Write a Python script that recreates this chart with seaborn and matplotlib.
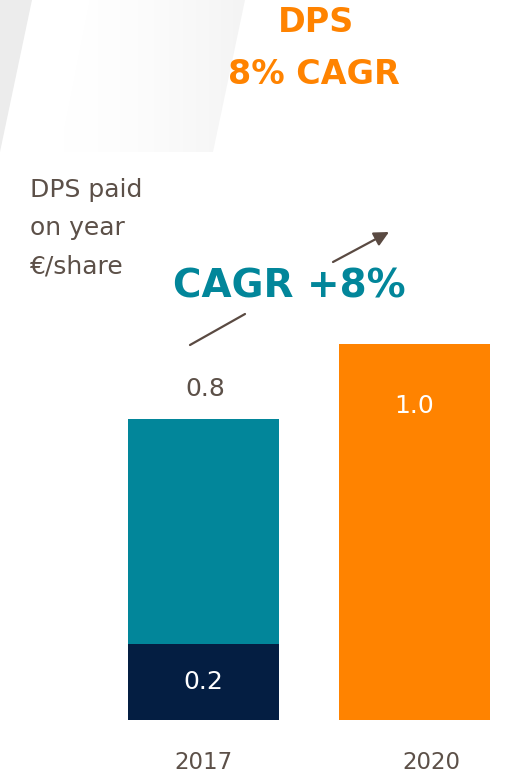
import matplotlib
matplotlib.use("Agg")
import matplotlib.pyplot as plt
from matplotlib.patches import Polygon
import numpy as np
import seaborn as sns
import pandas as pd

# Data: dividend per share (EUR)
years = ["2017", "2020"]
base_part = [0.2, 0.0]      # dark lower segment
top_part = [0.6, 1.0]       # upper segment / full bar
totals = [0.8, 1.0]
base_labels = ["0.2", ""]
total_labels = ["0.8", "1.0"]
unit_lines = ["DPS paid", "on year", "€/share"]

TEAL = "#02869a"
NAVY = "#041e42"
ORANGE = "#ff8300"
TEXT = "#5c5048"
ARROW = "#5a4a42"

sns.set_theme(style="white")
plt.rcParams["font.family"] = ["DejaVu Sans"]

W, H = 528, 775
fig = plt.figure(figsize=(W / 100, H / 100), dpi=100)
fig.patch.set_facecolor("white")


def fx(px):
    return px / W


def fy(py):
    return 1 - py / H


# light decorative shapes in the upper-left background
fig.patches.append(Polygon([(fx(0), fy(0)), (fx(32), fy(0)), (fx(0), fy(152))],
                           closed=True, transform=fig.transFigure,
                           facecolor="#ececec", edgecolor="none", zorder=0))
band = Polygon([(fx(90), fy(0)), (fx(245), fy(0)), (fx(213), fy(152)), (fx(60), fy(152))],
               closed=True, transform=fig.transFigure, facecolor="none",
               edgecolor="none")
fig.patches.append(band)
grad = np.linspace(0, 1, 256).reshape(1, -1) ** 1.5
bg_ax = fig.add_axes([0, 0, 1, 1], zorder=-1)
bg_ax.set_axis_off()
img = bg_ax.imshow(grad, extent=[fx(60), fx(245), fy(152), fy(0)],
                   cmap=matplotlib.colors.LinearSegmentedColormap.from_list(
                       "fade", ["#ffffff", "#f4f4f4"]),
                   aspect="auto", transform=fig.transFigure)
img.set_clip_path(band)
bg_ax.set_xlim(0, 1)
bg_ax.set_ylim(0, 1)

# axes placed so that category 0 and 1 land on the bar centres
ax = fig.add_axes([fx(98), 1 - 719.5 / H, 422 / W, 413.6 / H])
ax.set_facecolor("none")

df = pd.DataFrame({"year": years, "total": totals, "base": base_part})
sns.barplot(data=df, x="year", y="total", hue="year", palette=[TEAL, ORANGE],
            legend=False, width=0.716, saturation=1, linewidth=0, ax=ax)
sns.barplot(data=df, x="year", y="base", color=NAVY, width=0.716,
            saturation=1, linewidth=0, ax=ax)

ax.set_xlim(-0.5, 1.5)
ax.set_ylim(0, 1.1)
ax.set_xlabel("")
ax.set_ylabel("")
ax.set_yticks([])
ax.set_xticks([0, 1.08], labels=years)
ax.tick_params(axis="x", length=0, pad=23, labelsize=16.5, labelcolor=TEXT)
for s in ax.spines.values():
    s.set_visible(False)

# value labels
ax.text(0.01, totals[0] + 0.08, total_labels[0], ha="center", va="center",
        fontsize=18, color=TEXT)
ax.text(0.0, base_part[0] / 2, base_labels[0], ha="center", va="center",
        fontsize=18, color="white")
ax.text(1.0, totals[1] - 0.167, total_labels[1], ha="center", va="center",
        fontsize=18, color="white")

# headings
fig.text(fx(316), fy(22), "DPS", ha="center", va="center", fontsize=24,
         fontweight="bold", color=ORANGE)
fig.text(fx(314), fy(74), "8% CAGR", ha="center", va="center", fontsize=24,
         fontweight="bold", color=ORANGE)

# unit note, one line per baseline
for line, base_y in zip(unit_lines, [197, 235, 273]):
    fig.text(fx(30), fy(base_y), line, ha="left", va="baseline",
             fontsize=18, color=TEXT)

fig.text(fx(289), fy(286), "CAGR +8%", ha="center", va="center", fontsize=28,
         fontweight="bold", color=TEAL)

# growth arrow split around the CAGR label
fig.add_artist(plt.Line2D([fx(190), fx(245)], [fy(345), fy(314)],
                          transform=fig.transFigure, color=ARROW, lw=1.6))
ax.annotate("", xy=(fx(389), fy(232)), xytext=(fx(333), fy(262)),
            xycoords=fig.transFigure, textcoords=fig.transFigure,
            arrowprops=dict(arrowstyle="-|>", color=ARROW, lw=1.6,
                            mutation_scale=22, shrinkA=0, shrinkB=0))

fig.savefig("out.png", dpi=100, facecolor="white")
